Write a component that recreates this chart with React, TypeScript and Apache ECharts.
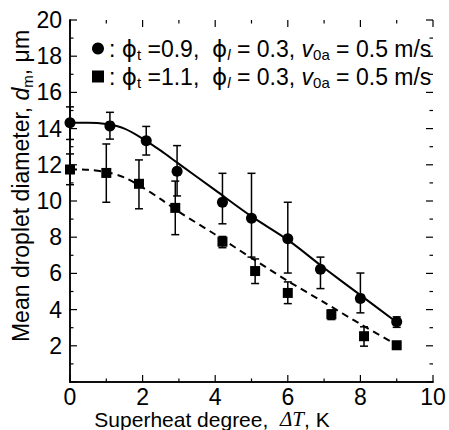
import React, { useEffect, useRef } from "react";
import * as echarts from "echarts";

// Circles: phi_t = 0.9
const circleX = [0, 1.1, 2.1, 2.95, 4.2, 5.0, 6.0, 6.9, 8.0, 9.0];
const circleY = [14.32, 14.15, 13.33, 11.64, 9.93, 9.05, 7.91, 6.23, 4.62, 3.33];
const circleLow = [13.4, 13.42, 12.54, 10.28, 8.74, 6.9, 6.02, 5.16, 3.82, 3.02];
const circleHigh = [15.2, 14.9, 14.12, 13.06, 11.53, 11.53, 9.93, 6.9, 6.02, 3.6];

// Squares: phi_t = 1.1
const squareX = [0, 1.0, 1.9, 2.9, 4.2, 5.1, 6.0, 7.2, 8.1, 9.0];
const squareY = [11.74, 11.55, 10.95, 9.62, 7.75, 6.13, 4.92, 3.74, 2.53, 2.03];
const squareLow = [10.9, 9.93, 9.57, 8.14, 7.42, 5.44, 4.33, 3.45, 1.98, 1.83];
const squareHigh = [12.6, 13.15, 12.27, 11.1, 8.04, 6.8, 5.53, 3.98, 3.05, 2.23];

// Fitted curves
const fitX = [0, 0.5, 1, 1.5, 2, 2.5, 3, 4, 5, 6, 7, 8, 9];
const solidFitY = [14.33, 14.33, 14.25, 14.0, 13.45, 12.78, 12.05, 10.6, 9.15, 7.85, 6.3, 4.8, 3.3];
const dashedFitY = [11.75, 11.72, 11.6, 11.3, 10.75, 10.1, 9.4, 8.15, 6.85, 5.58, 4.4, 3.2, 2.05];

// Axes
const xMin = 0, xMax = 10, xStep = 2;
const yMin = 0, yMax = 20, yStep = 2;
const xMajorTicks = [0, 2, 4, 6, 8, 10];
const xMinorTicks = [1, 3, 5, 7, 9];
const yMajorTicks = [0, 2, 4, 6, 8, 10, 12, 14, 16, 18, 20];
const yMinorTicks = [1, 3, 5, 7, 9, 11, 13, 15, 17, 19];

const xTitle = "Superheat degree,  {it|ΔT}, K";
const yTitle = "Mean droplet diameter, {it|d}{sub|m}, μm";

const FONT = "'Liberation Sans', Arial, sans-serif";

const zip = (a: number[], b: number[]) => a.map((v, i) => [v, b[i]]);
const zip3 = (a: number[], b: number[], c: number[]) => a.map((v, i) => [v, b[i], c[i]]);

const errorRender = (params: any, api: any) => {
  const x = api.value(0);
  const lo = api.coord([x, api.value(1)]);
  const hi = api.coord([x, api.value(2)]);
  const w = 4;
  const st = { stroke: "#000", lineWidth: 1.5 };
  return {
    type: "group",
    children: [
      { type: "line", shape: { x1: lo[0], y1: lo[1], x2: hi[0], y2: hi[1] }, style: st },
      { type: "line", shape: { x1: lo[0] - w, y1: lo[1], x2: lo[0] + w, y2: lo[1] }, style: st },
      { type: "line", shape: { x1: hi[0] - w, y1: hi[1], x2: hi[0] + w, y2: hi[1] }, style: st },
    ],
  };
};

// inward ticks on all four sides, positioned by the axes' scales
const tickStroke = { stroke: "#000", lineWidth: 1.2 };
const xTickRender = (params: any, api: any) => {
  const v = api.value(0);
  const len = api.value(1) ? 7 : 3.5;
  const b = api.coord([v, yMin]);
  const t = api.coord([v, yMax]);
  return {
    type: "group",
    children: [
      { type: "line", shape: { x1: b[0], y1: b[1], x2: b[0], y2: b[1] - len }, style: tickStroke },
      { type: "line", shape: { x1: t[0], y1: t[1], x2: t[0], y2: t[1] + len }, style: tickStroke },
    ],
  };
};
const yTickRender = (params: any, api: any) => {
  const v = api.value(1);
  const len = api.value(2) ? 7 : 3.5;
  const l = api.coord([xMin, v]);
  const r = api.coord([xMax, v]);
  return {
    type: "group",
    children: [
      { type: "line", shape: { x1: l[0], y1: l[1], x2: l[0] + len, y2: l[1] }, style: tickStroke },
      { type: "line", shape: { x1: r[0], y1: r[1], x2: r[0] - len, y2: r[1] }, style: tickStroke },
    ],
  };
};

const LF = 23;
const subRich = {
  sub: { fontSize: 15, fontFamily: FONT, color: "#000", verticalAlign: "bottom", lineHeight: 15 },
  subi: { fontSize: 15, fontFamily: FONT, fontStyle: "italic", color: "#000", verticalAlign: "bottom", lineHeight: 15 },
  i: { fontSize: LF, fontFamily: FONT, fontStyle: "italic", color: "#000", lineHeight: 27 },
  g: { fontSize: LF, fontFamily: "'DejaVu Sans', sans-serif", color: "#000", lineHeight: 27 },
  n: { fontSize: LF, fontFamily: FONT, color: "#000", lineHeight: 27 },
};

export default function App() {
  const ref = useRef<HTMLDivElement>(null);
  useEffect(() => {
    if (!ref.current) return;
    const chart = echarts.init(ref.current, undefined, { renderer: "svg" });
    const axisCommon = {
      axisLine: { show: true, lineStyle: { color: "#000", width: 1.5 } },
      axisTick: { show: false },
      minorTick: { show: false },
      splitLine: { show: false },
    };
    const option: any = {
      animation: false,
      backgroundColor: "#fff",
      grid: { left: 70, right: 16, top: 20, bottom: 48 },
      graphic: [
        {
          type: "text",
          x: 212,
          y: 419,
          style: {
            text: xTitle,
            font: `21px ${FONT}`,
            fill: "#000",
            align: "center",
            verticalAlign: "middle",
            lineHeight: 20,
            rich: {
              it: { fontSize: 21, fontFamily: "'Liberation Serif', serif", fontStyle: "italic", fill: "#000", lineHeight: 20 },
            },
          },
        },
        {
          type: "text",
          x: 21,
          y: 186,
          rotation: Math.PI / 2,
          style: {
            text: yTitle,
            font: `23px ${FONT}`,
            fill: "#000",
            align: "center",
            verticalAlign: "middle",
            lineHeight: 28,
            rich: {
              it: { fontSize: 23, fontFamily: FONT, fontStyle: "italic", fill: "#000", lineHeight: 28 },
              sub: { fontSize: 15, fontFamily: FONT, fill: "#000", verticalAlign: "bottom", lineHeight: 15 },
            },
          },
        },
      ],
      legend: {
        orient: "vertical",
        left: 87,
        top: 32,
        itemGap: 3,
        itemWidth: 12,
        itemHeight: 12,
        itemStyle: { color: "#000", opacity: 1 },
        data: [
          { name: "circ", icon: "circle" },
          { name: "sq", icon: "rect" },
        ],
        formatter: (name: string) =>
          name === "circ"
            ? "{n|: }{g|ϕ}{sub|t}{n| =0.9,  }{g|ϕ}{subi|l}{n| = 0.3, }{i|v}{sub|0a}{n| = 0.5 m/s}"
            : "{n|: }{g|ϕ}{sub|t}{n| =1.1,  }{g|ϕ}{subi|l}{n| = 0.3, }{i|v}{sub|0a}{n| = 0.5 m/s}",
        textStyle: { fontSize: LF, fontFamily: FONT, color: "#000", rich: subRich },
      },
      xAxis: [
        {
          type: "value",
          min: xMin,
          max: xMax,
          interval: xStep,
          position: "bottom",
          ...axisCommon,
          axisLabel: { fontSize: 23, fontFamily: FONT, color: "#000", margin: 6, lineHeight: 18 },
        },
        {
          type: "value",
          min: xMin,
          max: xMax,
          interval: xStep,
          position: "top",
          ...axisCommon,
          axisLabel: { show: false },
        },
      ],
      yAxis: [
        {
          type: "value",
          min: yMin,
          max: yMax,
          interval: yStep,
          position: "left",
          ...axisCommon,
          axisLabel: { fontSize: 23, fontFamily: FONT, color: "#000", margin: 8, showMinLabel: false },
        },
        {
          type: "value",
          min: yMin,
          max: yMax,
          interval: yStep,
          position: "right",
          ...axisCommon,
          axisLabel: { show: false },
        },
      ],
      series: [
        {
          type: "custom",
          renderItem: xTickRender,
          data: [...xMajorTicks.map((v) => [v, 1]), ...xMinorTicks.map((v) => [v, 0])],
          encode: { x: 0 },
          clip: false,
          silent: true,
          z: 1,
        },
        {
          type: "custom",
          renderItem: yTickRender,
          data: [...yMajorTicks.map((v) => [xMin, v, 1]), ...yMinorTicks.map((v) => [xMin, v, 0])],
          encode: { x: 0, y: 1 },
          clip: false,
          silent: true,
          z: 1,
        },
        {
          type: "line",
          data: zip(fitX, solidFitY),
          smooth: 0.3,
          showSymbol: false,
          lineStyle: { color: "#000", width: 2 },
          z: 2,
        },
        {
          type: "line",
          data: zip(fitX, dashedFitY),
          smooth: 0.3,
          showSymbol: false,
          lineStyle: { color: "#000", width: 2, type: [7, 5] },
          z: 2,
        },
        {
          type: "custom",
          renderItem: errorRender,
          data: zip3(circleX, circleLow, circleHigh),
          encode: { x: 0, y: [1, 2] },
          clip: false,
          z: 3,
        },
        {
          type: "custom",
          renderItem: errorRender,
          data: zip3(squareX, squareLow, squareHigh),
          encode: { x: 0, y: [1, 2] },
          clip: false,
          z: 3,
        },
        {
          name: "circ",
          type: "scatter",
          data: zip(circleX, circleY),
          symbol: "circle",
          symbolSize: 11,
          itemStyle: { color: "#000", opacity: 1 },
          z: 5,
        },
        {
          name: "sq",
          type: "scatter",
          data: zip(squareX, squareY),
          symbol: "rect",
          symbolSize: 10,
          itemStyle: { color: "#000", opacity: 1 },
          z: 5,
        },
      ],
    };
    chart.setOption(option);
    return () => chart.dispose();
  }, []);
  return (
    <div
      ref={ref}
      style={{ position: "fixed", left: 0, top: 0, width: 449, height: 430, background: "#fff" }}
    />
  );
}
